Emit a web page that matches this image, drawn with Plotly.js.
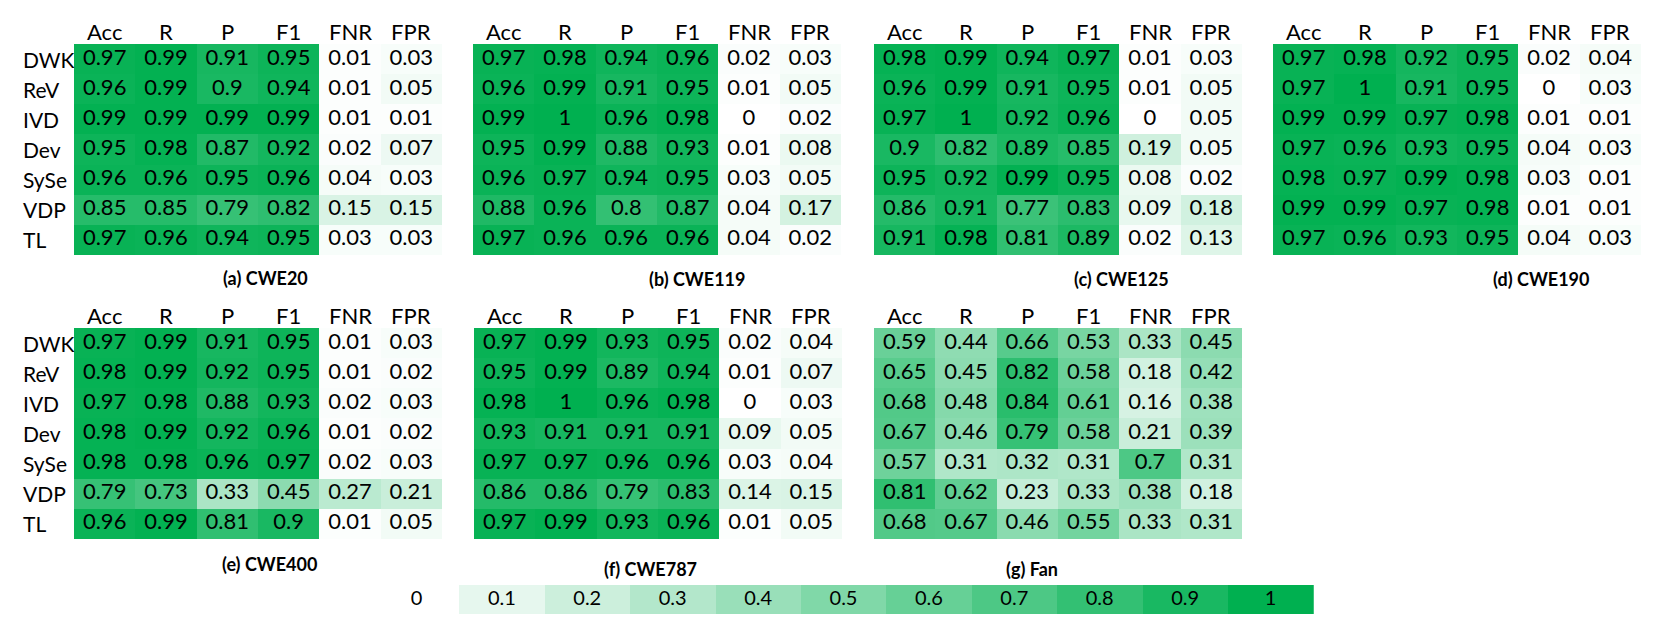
<!DOCTYPE html>
<html><head><meta charset="utf-8">
<script src="https://cdn.plot.ly/plotly-3.0.1.min.js"></script>
<style>html,body{margin:0;padding:0;background:#fff}</style>
</head><body><div id="chart" style="width:1661px;height:630px"></div>
<script>
// ---------------- data ----------------
const metrics = ['Acc', 'R', 'P', 'F1', 'FNR', 'FPR'];
const methods = ['DWK', 'ReV', 'IVD', 'Dev', 'SySe', 'VDP', 'TL'];

const cwe20 = [
  [0.97, 0.99, 0.91, 0.95, 0.01, 0.03],
  [0.96, 0.99, 0.9, 0.94, 0.01, 0.05],
  [0.99, 0.99, 0.99, 0.99, 0.01, 0.01],
  [0.95, 0.98, 0.87, 0.92, 0.02, 0.07],
  [0.96, 0.96, 0.95, 0.96, 0.04, 0.03],
  [0.85, 0.85, 0.79, 0.82, 0.15, 0.15],
  [0.97, 0.96, 0.94, 0.95, 0.03, 0.03]
];
const cwe119 = [
  [0.97, 0.98, 0.94, 0.96, 0.02, 0.03],
  [0.96, 0.99, 0.91, 0.95, 0.01, 0.05],
  [0.99, 1, 0.96, 0.98, 0, 0.02],
  [0.95, 0.99, 0.88, 0.93, 0.01, 0.08],
  [0.96, 0.97, 0.94, 0.95, 0.03, 0.05],
  [0.88, 0.96, 0.8, 0.87, 0.04, 0.17],
  [0.97, 0.96, 0.96, 0.96, 0.04, 0.02]
];
const cwe125 = [
  [0.98, 0.99, 0.94, 0.97, 0.01, 0.03],
  [0.96, 0.99, 0.91, 0.95, 0.01, 0.05],
  [0.97, 1, 0.92, 0.96, 0, 0.05],
  [0.9, 0.82, 0.89, 0.85, 0.19, 0.05],
  [0.95, 0.92, 0.99, 0.95, 0.08, 0.02],
  [0.86, 0.91, 0.77, 0.83, 0.09, 0.18],
  [0.91, 0.98, 0.81, 0.89, 0.02, 0.13]
];
const cwe190 = [
  [0.97, 0.98, 0.92, 0.95, 0.02, 0.04],
  [0.97, 1, 0.91, 0.95, 0, 0.03],
  [0.99, 0.99, 0.97, 0.98, 0.01, 0.01],
  [0.97, 0.96, 0.93, 0.95, 0.04, 0.03],
  [0.98, 0.97, 0.99, 0.98, 0.03, 0.01],
  [0.99, 0.99, 0.97, 0.98, 0.01, 0.01],
  [0.97, 0.96, 0.93, 0.95, 0.04, 0.03]
];
const cwe400 = [
  [0.97, 0.99, 0.91, 0.95, 0.01, 0.03],
  [0.98, 0.99, 0.92, 0.95, 0.01, 0.02],
  [0.97, 0.98, 0.88, 0.93, 0.02, 0.03],
  [0.98, 0.99, 0.92, 0.96, 0.01, 0.02],
  [0.98, 0.98, 0.96, 0.97, 0.02, 0.03],
  [0.79, 0.73, 0.33, 0.45, 0.27, 0.21],
  [0.96, 0.99, 0.81, 0.9, 0.01, 0.05]
];
const cwe787 = [
  [0.97, 0.99, 0.93, 0.95, 0.02, 0.04],
  [0.95, 0.99, 0.89, 0.94, 0.01, 0.07],
  [0.98, 1, 0.96, 0.98, 0, 0.03],
  [0.93, 0.91, 0.91, 0.91, 0.09, 0.05],
  [0.97, 0.97, 0.96, 0.96, 0.03, 0.04],
  [0.86, 0.86, 0.79, 0.83, 0.14, 0.15],
  [0.97, 0.99, 0.93, 0.96, 0.01, 0.05]
];
const fan = [
  [0.59, 0.44, 0.66, 0.53, 0.33, 0.45],
  [0.65, 0.45, 0.82, 0.58, 0.18, 0.42],
  [0.68, 0.48, 0.84, 0.61, 0.16, 0.38],
  [0.67, 0.46, 0.79, 0.58, 0.21, 0.39],
  [0.57, 0.31, 0.32, 0.31, 0.7, 0.31],
  [0.81, 0.62, 0.23, 0.33, 0.38, 0.18],
  [0.68, 0.67, 0.46, 0.55, 0.33, 0.31]
];
const panelTitles = ['(a) CWE20', '(b) CWE119', '(c) CWE125', '(d) CWE190', '(e) CWE400', '(f) CWE787', '(g) Fan'];
const legendValues = [0, 0.1, 0.2, 0.3, 0.4, 0.5, 0.6, 0.7, 0.8, 0.9, 1];
const legendLabels = ['0', '0.1', '0.2', '0.3', '0.4', '0.5', '0.6', '0.7', '0.8', '0.9', '1'];

// ---------------- layout geometry (pixels) ----------------
const W = 1661, H = 630;
const panelData = [cwe20, cwe119, cwe125, cwe190, cwe400, cwe787, fan];
const boxes = [
  [74, 442, 44, 255], [473, 841, 44, 255], [874, 1242, 44, 255], [1273, 1641, 44, 255],
  [74, 442, 328, 539], [474, 842, 328, 539], [874, 1242, 328, 539]
];
const titlePos = [[265, 278], [697, 279], [1121, 279], [1541, 279], [269, 564], [650, 569], [1032, 569]];
const headerY = [31, 31, 31, 31, 315, 315, 315];
const rowLabelPanels = [0, 4];
const legendBox = [369, 1318, 585, 614];

const green = [[0, '#FFFFFF'], [1, '#00B050']];
const FONT = 'Lato, "Open Sans", sans-serif';
const TXT = 22;

const px = x => x / W;
const py = y => 1 - y / H;

const traces = [];
const layout = {
  width: W, height: H,
  margin: {l: 0, r: 0, t: 0, b: 0},
  paper_bgcolor: '#fff', plot_bgcolor: '#fff',
  showlegend: false,
  font: {family: FONT, color: '#000'},
  annotations: []
};

panelData.forEach((z, i) => {
  const n = i + 1;
  const xa = n === 1 ? 'x' : 'x' + n;
  const ya = n === 1 ? 'y' : 'y' + n;
  const b = boxes[i];
  traces.push({
    type: 'heatmap', x: metrics, y: methods, z: z,
    xaxis: xa, yaxis: ya,
    colorscale: green, zmin: 0, zmax: 1, showscale: false,
    hoverinfo: 'skip'
  });
  // cell values as text, placed through the same categorical axes
  const tx = [], ty = [], tt = [];
  z.forEach((row, r) => row.forEach((v, c) => {
    tx.push(metrics[c]); ty.push(methods[r]); tt.push(String(v));
  }));
  traces.push({
    type: 'scatter', mode: 'text', x: tx, y: ty, text: tt,
    xaxis: xa, yaxis: ya, textposition: 'middle center',
    textfont: {family: FONT, size: TXT, color: '#000'},
    hoverinfo: 'skip', cliponaxis: false
  });
  layout['xaxis' + (n === 1 ? '' : n)] = {
    domain: [px(b[0]), px(b[1])], anchor: ya,
    showgrid: false, zeroline: false, showline: false, ticks: '',
    showticklabels: false, fixedrange: true
  };
  layout['yaxis' + (n === 1 ? '' : n)] = {
    domain: [py(b[3]), py(b[2])], anchor: xa, autorange: 'reversed',
    showgrid: false, zeroline: false, showline: false, ticks: '',
    showticklabels: false, fixedrange: true
  };
  // column headers, positioned on the categorical x axis
  metrics.forEach(m => {
    layout.annotations.push({
      xref: xa, yref: 'paper', x: m, y: py(headerY[i]),
      xanchor: 'center', yanchor: 'middle', showarrow: false,
      text: m, font: {family: FONT, size: TXT, color: '#000'}
    });
  });
  layout.annotations.push({
    xref: 'paper', yref: 'paper', x: px(titlePos[i][0]), y: py(titlePos[i][1]),
    xanchor: 'center', yanchor: 'middle', showarrow: false,
    text: '<b>' + panelTitles[i] + '</b>',
    font: {family: FONT, size: 18, color: '#000'}
  });
  if (rowLabelPanels.includes(i)) {
    methods.forEach(m => {
      layout.annotations.push({
        xref: 'paper', yref: ya, x: px(21), y: m,
        xanchor: 'left', yanchor: 'middle', showarrow: false,
        text: m, font: {family: FONT, size: 21, color: '#000'}
      });
    });
  }
});

// colour legend
traces.push({
  type: 'heatmap', x: legendLabels, y: ['scale'], z: [legendValues],
  xaxis: 'x8', yaxis: 'y8',
  colorscale: green, zmin: 0, zmax: 1, showscale: false,
  hoverinfo: 'skip'
});
traces.push({
  type: 'scatter', mode: 'text', x: legendLabels, y: legendLabels.map(() => 'scale'), text: legendLabels,
  xaxis: 'x8', yaxis: 'y8', textposition: 'middle center',
  textfont: {family: FONT, size: 20, color: '#000'},
  hoverinfo: 'skip', cliponaxis: false
});
layout.xaxis8 = {
  domain: [px(legendBox[0]), px(legendBox[1])], anchor: 'y8',
  showgrid: false, zeroline: false, showline: false, ticks: '', showticklabels: false, fixedrange: true
};
layout.yaxis8 = {
  domain: [py(legendBox[3]), py(legendBox[2])], anchor: 'x8',
  showgrid: false, zeroline: false, showline: false, ticks: '', showticklabels: false, fixedrange: true
};

Plotly.newPlot('chart', traces, layout, {displayModeBar: false, staticPlot: true});
</script>
</body></html>
